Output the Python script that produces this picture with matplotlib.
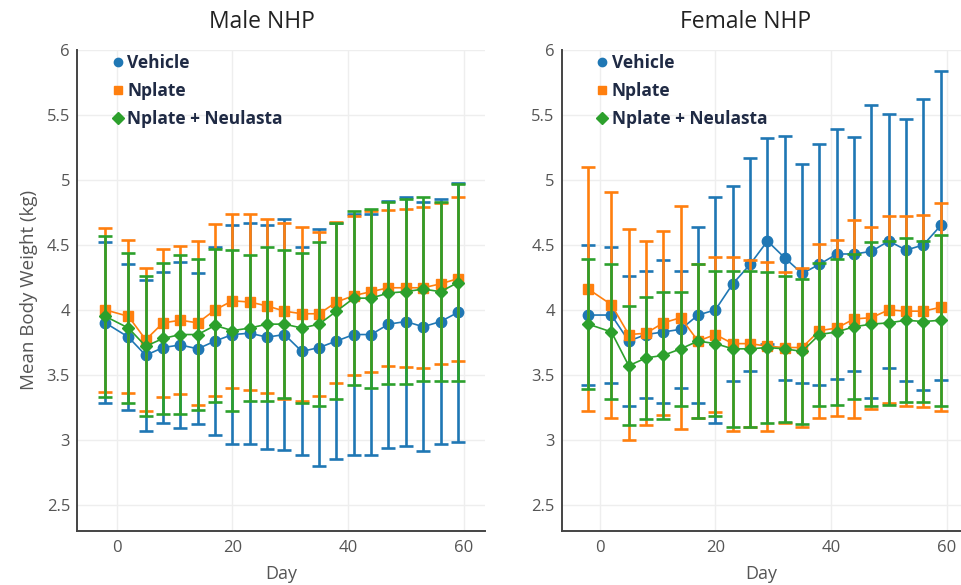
import matplotlib
matplotlib.use("Agg")
import matplotlib.pyplot as plt
from matplotlib.lines import Line2D
from matplotlib.ticker import FuncFormatter

plt.rcParams['font.family'] = ['Open Sans', 'DejaVu Sans']

days = [-2, 2, 5, 8, 11, 14, 17, 20, 23, 26, 29, 32, 35, 38, 41, 44, 47, 50, 53, 56, 59]
groups = ["Vehicle", "Nplate", "Nplate + Neulasta"]

# male NHP: mean body weight and SD (kg)
male_vehicle = [3.90, 3.79, 3.65, 3.71, 3.73, 3.70, 3.76, 3.81, 3.82, 3.79, 3.81,
                3.68, 3.71, 3.76, 3.81, 3.81, 3.89, 3.91, 3.87, 3.91, 3.98]
male_vehicle_sd = [0.62, 0.56, 0.58, 0.58, 0.64, 0.58, 0.72, 0.84, 0.85, 0.86, 0.89,
                   0.80, 0.91, 0.91, 0.93, 0.93, 0.95, 0.96, 0.96, 0.94, 1.00]
male_nplate = [4.00, 3.95, 3.77, 3.90, 3.92, 3.90, 4.00, 4.07, 4.06, 4.03, 3.99,
               3.97, 3.97, 4.06, 4.11, 4.14, 4.17, 4.17, 4.17, 4.20, 4.24]
male_nplate_sd = [0.63, 0.59, 0.55, 0.57, 0.57, 0.63, 0.66, 0.67, 0.68, 0.67, 0.68,
                  0.67, 0.63, 0.62, 0.61, 0.62, 0.60, 0.61, 0.62, 0.62, 0.63]
male_combo = [3.95, 3.86, 3.72, 3.78, 3.81, 3.81, 3.88, 3.84, 3.86, 3.89, 3.89,
              3.86, 3.89, 3.99, 4.09, 4.09, 4.13, 4.14, 4.16, 4.14, 4.21]
male_combo_sd = [0.62, 0.58, 0.54, 0.58, 0.61, 0.58, 0.59, 0.62, 0.56, 0.59, 0.57,
                 0.58, 0.63, 0.68, 0.67, 0.69, 0.70, 0.71, 0.71, 0.69, 0.76]

# female NHP
female_vehicle = [3.96, 3.96, 3.76, 3.81, 3.83, 3.85, 3.96, 4.00, 4.20, 4.35, 4.53,
                  4.40, 4.28, 4.35, 4.43, 4.43, 4.45, 4.53, 4.46, 4.50, 4.65]
female_vehicle_sd = [0.54, 0.52, 0.50, 0.49, 0.55, 0.45, 0.68, 0.87, 0.75, 0.82, 0.79,
                     0.94, 0.84, 0.93, 0.96, 0.90, 1.13, 0.98, 1.01, 1.12, 1.19]
female_nplate = [4.16, 4.04, 3.81, 3.82, 3.90, 3.94, 3.76, 3.81, 3.74, 3.74, 3.72,
                 3.71, 3.71, 3.84, 3.86, 3.93, 3.94, 4.00, 3.99, 3.99, 4.02]
female_nplate_sd = [0.94, 0.87, 0.81, 0.71, 0.71, 0.86, 0.59, 0.60, 0.67, 0.64, 0.65,
                    0.58, 0.61, 0.67, 0.68, 0.76, 0.70, 0.72, 0.73, 0.74, 0.80]
female_combo = [3.89, 3.83, 3.57, 3.63, 3.65, 3.70, 3.76, 3.74, 3.70, 3.70, 3.71,
                3.70, 3.68, 3.81, 3.83, 3.87, 3.89, 3.90, 3.92, 3.91, 3.92]
female_combo_sd = [0.50, 0.52, 0.46, 0.47, 0.49, 0.44, 0.59, 0.56, 0.60, 0.60, 0.58,
                   0.56, 0.56, 0.55, 0.56, 0.56, 0.63, 0.63, 0.63, 0.62, 0.66]

colors = ['#1f77b4', '#ff7f0e', '#2ca02c']
markers = ['o', 's', 'D']
msizes = [7.5, 7, 6.5]
axis_gray = '#444444'
grid_gray = '#eeeeee'
label_gray = '#555555'
legend_text = '#1f2a44'

fig = plt.figure(figsize=(9.61, 5.85), dpi=100)
ax_m = fig.add_axes([0.0801, 0.0928, 0.4246, 0.8217])
ax_f = fig.add_axes([0.5845, 0.0928, 0.4155, 0.8217])

panels = [
    (ax_m, [male_vehicle, male_nplate, male_combo],
     [male_vehicle_sd, male_nplate_sd, male_combo_sd], (-6.9, 63.7)),
    (ax_f, [female_vehicle, female_nplate, female_combo],
     [female_vehicle_sd, female_nplate_sd, female_combo_sd], (-6.6, 62.5)),
]

for ax, means, sds, xlim in panels:
    for i in range(3):
        ax.errorbar(days, means[i], yerr=sds[i], color=colors[i],
                    marker=markers[i], markersize=msizes[i], lw=1.2,
                    elinewidth=1.9, capsize=4.7, capthick=1.9,
                    zorder=3 + i)
    ax.set_xlim(*xlim)
    ax.set_ylim(2.3, 6.0)
    ax.set_xticks([0, 20, 40, 60])
    ax.set_yticks([2.5, 3, 3.5, 4, 4.5, 5, 5.5, 6])
    ax.yaxis.set_major_formatter(FuncFormatter(lambda v, p: f"{v:g}"))
    ax.grid(True, color=grid_gray, lw=1)
    ax.set_axisbelow(True)
    for s in ['top', 'right']:
        ax.spines[s].set_visible(False)
    for s in ['left', 'bottom']:
        ax.spines[s].set_color(axis_gray)
        ax.spines[s].set_linewidth(1.4)
    ax.tick_params(length=0, labelsize=12, labelcolor=label_gray)
    ax.tick_params(axis='y', pad=5)
    ax.tick_params(axis='x', pad=7)
    ax.set_xlabel("Day", fontsize=13, color=label_gray, labelpad=6)

    handles = [Line2D([], [], ls='none', marker=markers[i], color=colors[i],
                      markersize=6) for i in range(3)]
    leg = ax.legend(handles, groups, loc='upper left', bbox_to_anchor=(0.04, 1.025),
                    frameon=False, handletextpad=0.05, handlelength=1.0,
                    labelspacing=0.58, prop={'weight': 'bold', 'size': 12.5})
    for t in leg.get_texts():
        t.set_color(legend_text)

ax_m.set_ylabel("Mean Body Weight (kg)", fontsize=13.5, color=label_gray, labelpad=6)

fig.text(0.273, 0.962, "Male NHP", fontsize=16.5, ha='center', va='center', color='#222222')
fig.text(0.776, 0.962, "Female NHP", fontsize=16.5, ha='center', va='center', color='#222222')

fig.savefig("out.png", dpi=100)
